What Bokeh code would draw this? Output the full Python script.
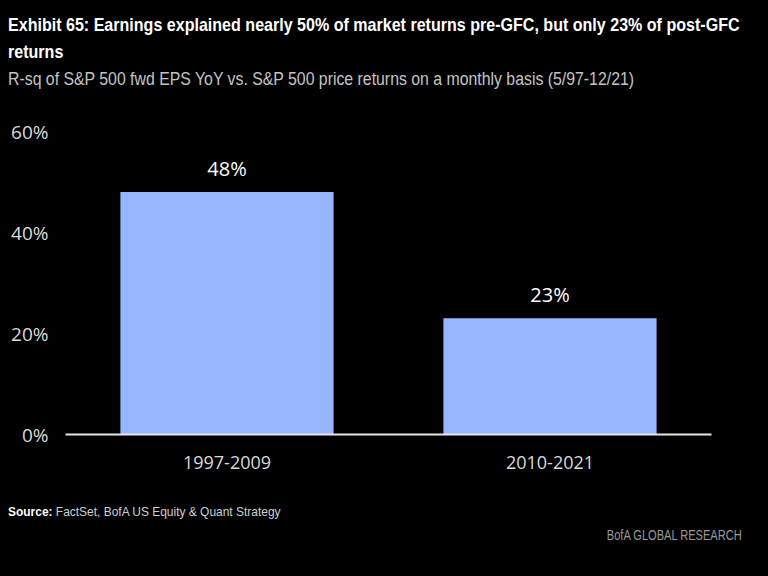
from bokeh.plotting import figure
from bokeh.models import (ColumnDataSource, FixedTicker, PrintfTickFormatter, LabelSet, Div)
from bokeh.layouts import column
from bokeh.core.properties import value
from bokeh.embed import file_html
from bokeh.resources import INLINE

# ---- data ----
categories = ["1997-2009", "2010-2021"]
r_squared = [48, 23]
bar_labels = ["48%", "23%"]
y_ticks = [0, 20, 40, 60]

title_line1 = "Exhibit 65: Earnings explained nearly 50% of market returns pre-GFC, but only 23% of post-GFC"
title_line2 = "returns"
subtitle = "R-sq of S&amp;P 500 fwd EPS YoY vs. S&amp;P 500 price returns on a monthly basis (5/97-12/21)"
source_bold = "Source:"
source_text = "FactSet, BofA US Equity &amp; Quant Strategy"
brand = "BofA GLOBAL RESEARCH"

HTML_FONT = "'Liberation Sans', Arial, sans-serif"
SVG_FONT = "Open Sans"
W = 768

# ---- header / footer (HTML text) ----
def span(txt, left, center, size, color, weight="normal", sx=1.0, lh=24):
    return (f'<div style="position:absolute;left:{left}px;top:{center - lh/2}px;'
            f'height:{lh}px;line-height:{lh}px;font-size:{size}px;color:{color};'
            f'font-weight:{weight};white-space:nowrap;font-family:{HTML_FONT};'
            f'transform:scaleX({sx});transform-origin:left center;">{txt}</div>')

header_html = ('<div style="position:relative;width:768px;height:100px;background:black;overflow:hidden;">'
               + span(title_line1, 8, 25, 19, "white", "bold", 0.845)
               + span(title_line2, 8, 52, 19, "white", "bold", 0.845)
               + span(subtitle, 8, 79, 18, "#c4c4c4", "normal", 0.88)
               + '</div>')
header = Div(text=header_html, width=W, height=100, margin=0,
             styles={"background-color": "black"})

footer_html = ('<div style="position:relative;width:768px;height:92px;background:black;overflow:hidden;">'
               + span(f'<b style="color:white">{source_bold}</b> {source_text}', 8, 28, 13,
                      "#d0d0d0", "normal", 0.92)
               + f'<div style="position:absolute;right:26px;top:{51-12}px;height:24px;line-height:24px;'
                 f'font-size:14px;color:#9a9a9a;font-family:{HTML_FONT};white-space:nowrap;'
                 f'transform:scaleX(0.79);transform-origin:right center;">{brand}</div>'
               + '</div>')
footer = Div(text=footer_html, width=W, height=92, margin=0,
             styles={"background-color": "black"})

# ---- chart ----
src = ColumnDataSource(dict(cat=categories, val=r_squared, lab=bar_labels))

p = figure(width=W, height=384, x_range=categories, y_range=(0, 60),
           output_backend="svg", toolbar_location=None,
           background_fill_color="black", border_fill_color="black",
           min_border_left=65, min_border_right=57, min_border_top=31,
           min_border_bottom=50, margin=0)
p.outline_line_color = None
p.grid.visible = False
p.x_range.range_padding = 0

p.vbar(x="cat", top="val", width=0.66, source=src, fill_color="#97B5FF",
       line_color=None)

p.add_layout(LabelSet(x="cat", y="val", text="lab", source=src, y_offset=24,
                      text_align="center", text_baseline="middle",
                      text_color="white", text_font_size="20px",
                      text_font=value(SVG_FONT)))

p.yaxis.ticker = FixedTicker(ticks=y_ticks)
p.yaxis.formatter = PrintfTickFormatter(format="%d%%")
p.yaxis.axis_line_color = None
p.yaxis.major_tick_line_color = None
p.yaxis.minor_tick_line_color = None
p.yaxis.major_label_text_color = "#d9d9d9"
p.yaxis.major_label_text_font = SVG_FONT
p.yaxis.major_label_text_font_size = "19px"
p.yaxis.major_label_standoff = 11

p.xaxis.axis_line_color = "#e6e6e6"
p.xaxis.axis_line_width = 2
p.xaxis.major_tick_line_color = None
p.xaxis.minor_tick_line_color = None
p.xaxis.major_label_text_color = "#d9d9d9"
p.xaxis.major_label_text_font = SVG_FONT
p.xaxis.major_label_text_font_size = "18px"
p.xaxis.major_label_standoff = 15

layout = column(header, p, footer, margin=0, spacing=0,
                styles={"background-color": "black"})

open("out.html", "w").write(file_html(layout, INLINE))
